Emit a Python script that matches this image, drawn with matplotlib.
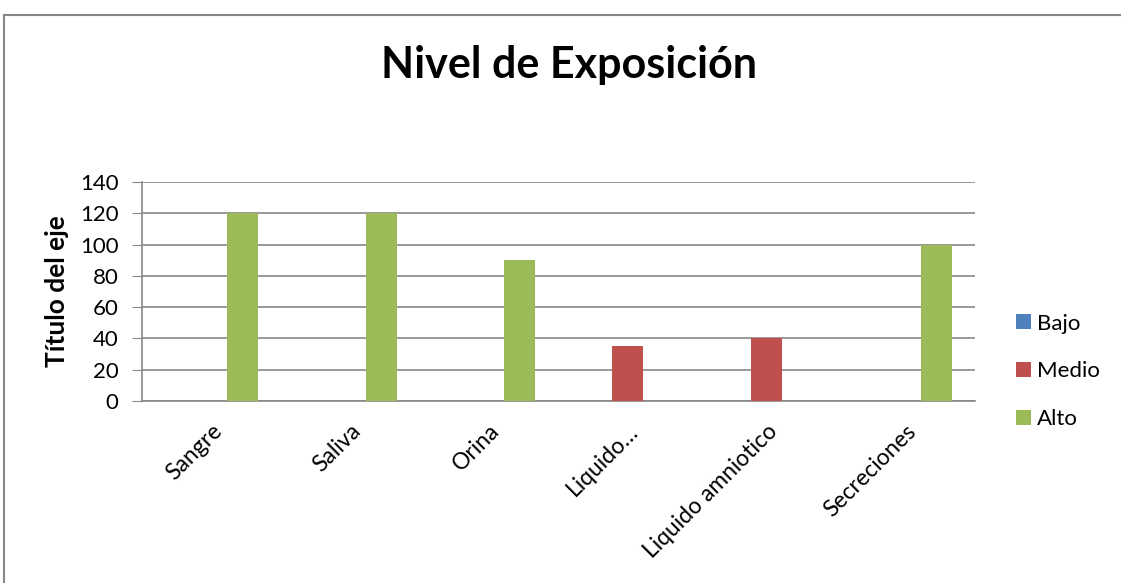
import numpy as np
import matplotlib.pyplot as plt
from matplotlib.lines import Line2D

categories = ["Sangre", "Saliva", "Orina", "Liquido…", "Liquido amniotico", "Secreciones"]
bajo = [0, 0, 0, 0, 0, 0]
medio = [0, 0, 0, 35, 40, 0]
alto = [120, 120, 90, 0, 0, 100]
series_names = ["Bajo", "Medio", "Alto"]
colors = ["#4F81BD", "#C0504D", "#9BBB59"]

plt.rcParams['font.family'] = ['Lato', 'DejaVu Sans']

fig = plt.figure(figsize=(11.21, 5.83), dpi=100)
ax = fig.add_axes([0.1267, 0.3122, 0.743, 0.3756])

x = np.arange(len(categories))
w = 1 / 4.5
for k, (vals, name, c) in enumerate(zip([bajo, medio, alto], series_names, colors)):
    ax.bar(x + (k - 1) * w, vals, width=w, color=c, label=name, zorder=3)

ax.set_xlim(-0.5, len(categories) - 0.5)
ax.set_ylim(0, 140)
ax.set_yticks(range(0, 141, 20))
ax.grid(axis='y', color='#878787', linewidth=1.2, zorder=0)
ax.set_xticks(x)
ax.set_xticklabels(categories, rotation=45, ha='right', rotation_mode='anchor', fontsize=16.5)
ax.tick_params(axis='x', length=0, pad=14)
ax.tick_params(axis='y', length=7, color='#878787', labelsize=16, pad=10)
for s in ['top', 'right']:
    ax.spines[s].set_visible(False)
for s in ['left', 'bottom']:
    ax.spines[s].set_color('#878787')
    ax.spines[s].set_linewidth(1.2)

ax.set_ylabel("Título del eje", fontsize=19, fontweight='bold', labelpad=8)
fig.text(0.508, 0.888, "Nivel de Exposición", fontsize=31, fontweight='bold',
         ha='center', va='center')

ax.legend(loc='center left', bbox_to_anchor=(0.906, 0.363), bbox_transform=fig.transFigure,
          frameon=False, fontsize=16, handlelength=0.68, handleheight=0.68,
          handletextpad=0.3, labelspacing=1.25, borderpad=0, borderaxespad=0)

# outer chart frame (left and top edges visible)
fig.add_artist(Line2D([0.004, 0.004], [0, 0.974], transform=fig.transFigure, color='#878787', lw=1.5))
fig.add_artist(Line2D([0.004, 1.0], [0.974, 0.974], transform=fig.transFigure, color='#878787', lw=1.5))

fig.savefig('out.png', dpi=100)
